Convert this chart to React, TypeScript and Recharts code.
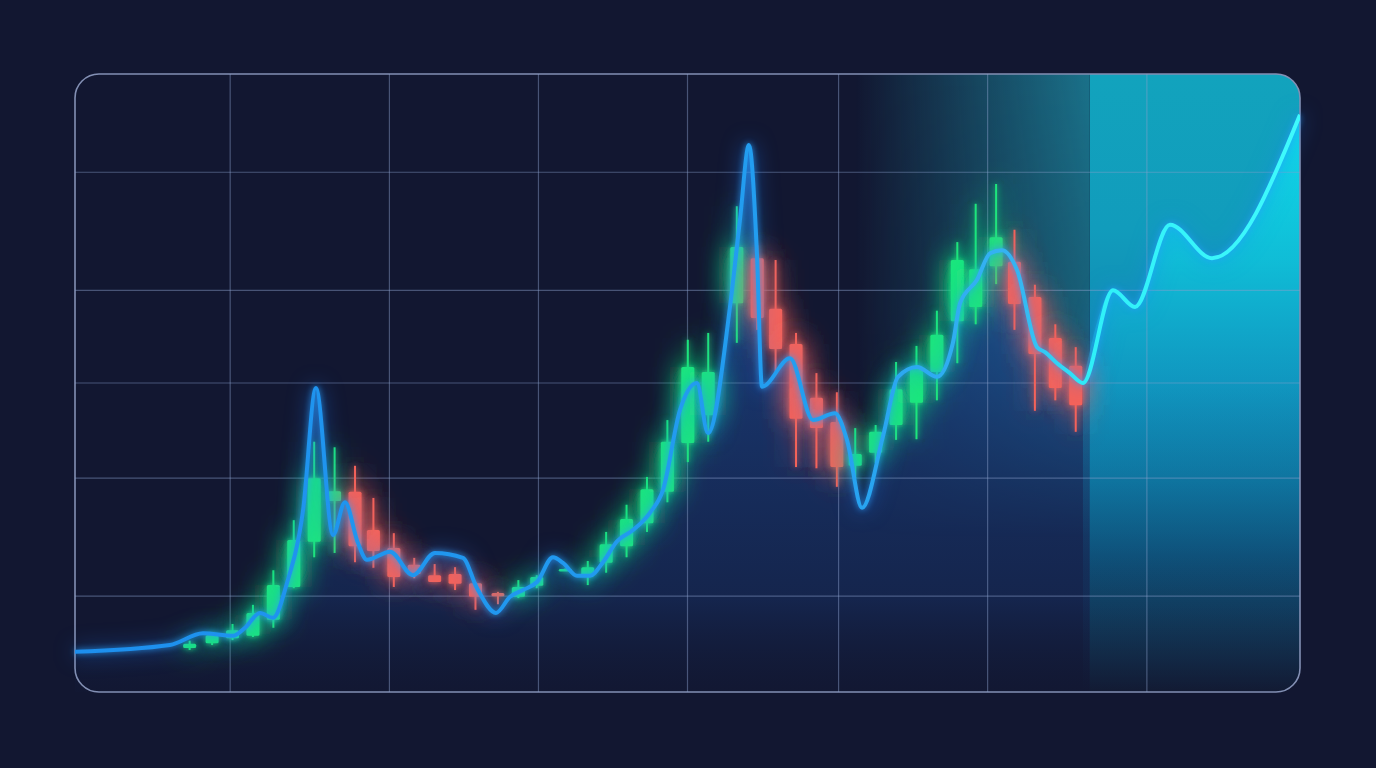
import React from 'react';
import { ComposedChart, XAxis, YAxis, Area, Line, Bar, ReferenceArea, ReferenceLine } from 'recharts';

const W = 1376;
const H = 768;
const MARGIN = { top: 74, right: 76, bottom: 76, left: 75 };
const RADIUS = 24;

const BG = '#121731';
const GREEN = '#1fe67d';
const RED = '#f4625a';

// candles (time index, price units)
const CANDLE_T = [5.6, 6.7, 7.7, 8.7, 9.7, 10.7, 11.7, 12.7, 13.7, 14.6, 15.6, 16.6, 17.6, 18.6, 19.6, 20.7, 21.7, 22.6, 24, 25.1, 26, 27, 28, 29, 30, 31, 32.4, 33.4, 34.3, 35.3, 36.3, 37.3, 38.2, 39.2, 40.2, 41.2, 42.2, 43.2, 44.1, 45.1, 46, 47, 48, 49];
const CANDLE_OPEN = [7.1, 7.9, 8.7, 9.1, 11.7, 17.0, 24.3, 30.9, 32.4, 26.2, 23.3, 20.6, 18.9, 19.1, 17.6, 16.0, 15.4, 17.2, 19.7, 18.8, 20.9, 23.6, 27.3, 32.4, 40.3, 44.8, 62.9, 70.2, 62.0, 56.3, 47.6, 43.7, 36.6, 38.7, 43.2, 46.8, 51.8, 60.0, 62.3, 68.9, 69.6, 63.9, 57.3, 52.8];
const CANDLE_CLOSE = [7.8, 9.2, 10.0, 12.8, 17.3, 24.6, 34.6, 32.5, 23.6, 22.8, 18.6, 19.1, 17.8, 17.5, 15.4, 15.5, 17.0, 18.6, 19.9, 20.2, 23.9, 28.0, 32.8, 40.5, 52.6, 51.8, 72.0, 60.5, 55.5, 44.2, 42.7, 36.4, 38.5, 42.1, 49.0, 52.6, 57.8, 69.9, 68.4, 73.6, 62.8, 54.7, 49.2, 46.4];
const CANDLE_HIGH = [8.3, 9.7, 11.0, 14.1, 19.7, 27.8, 40.5, 39.6, 36.6, 31.4, 25.7, 21.7, 20.7, 20.2, 17.8, 16.2, 18.1, 18.9, 20.0, 21.2, 25.9, 30.3, 34.8, 44.0, 57.0, 58.1, 78.6, 72.3, 69.9, 58.1, 51.6, 48.5, 42.7, 43.2, 53.4, 56.0, 61.7, 72.8, 79.0, 82.2, 74.8, 65.9, 59.5, 55.8];
const CANDLE_LOW = [6.8, 7.6, 8.4, 8.9, 10.4, 16.8, 21.8, 22.5, 21.0, 20.1, 17.0, 18.4, 17.8, 16.5, 13.3, 14.2, 15.2, 16.8, 19.6, 17.3, 19.3, 21.8, 25.9, 30.7, 37.2, 40.5, 56.5, 58.6, 51.6, 36.4, 36.2, 33.2, 34.6, 37.1, 40.8, 40.9, 47.2, 53.2, 59.5, 66.0, 58.6, 45.5, 47.2, 42.1];

// trend line
const LINE_T = [0, 4.65, 6.27, 7.74, 8.33, 9.06, 9.7, 10.38, 11.17, 11.8, 12.64, 13.22, 13.86, 14.3, 15.43, 16.55, 17.63, 19.0, 19.69, 20.62, 21.31, 21.94, 22.63, 23.41, 23.9, 24.59, 25.22, 25.86, 26.55, 27.33, 28.16, 28.8, 29.63, 30.46, 31.0, 32.08, 32.57, 33.01, 33.4, 33.65, 35.02, 36.15, 37.22, 37.81, 38.55, 39.57, 40.31, 41.24, 42.22, 43.0, 43.35, 44.18, 44.82, 45.4, 46.14, 47.12, 47.51, 48.1, 48.73, 49.37, 50.84, 51.92, 53.63, 55.69, 60];
const LINE_V = [6.5, 7.6, 9.5, 9.1, 10.4, 12.8, 12.0, 17.6, 29.4, 49.2, 25.4, 30.7, 24.1, 21.4, 22.7, 18.9, 22.5, 21.7, 16.8, 12.8, 15.4, 16.5, 17.8, 21.8, 20.9, 18.8, 18.8, 21.0, 24.4, 26.2, 29.0, 32.7, 45.6, 50.0, 41.9, 62.3, 76.4, 88.5, 71.0, 49.4, 54.0, 44.0, 45.1, 40.8, 29.8, 41.3, 51.0, 52.6, 51.0, 56.5, 62.9, 66.7, 71.0, 71.5, 68.3, 55.8, 55.0, 53.2, 51.6, 50.0, 65.0, 62.3, 75.6, 70.2, 93.4];

const GRID_X = [7.6, 15.4, 22.7, 30, 37.4, 44.7, 52.5];
const GRID_Y = [15.5, 34.6, 50, 65, 84.1];
const X_DOMAIN: [number, number] = [0, 60];
const Y_DOMAIN: [number, number] = [0, 100];
const GLOW_START = 37.6;
const FORECAST_START = 49.7;

const candles = CANDLE_T.map((t, i) => ({
  t,
  open: CANDLE_OPEN[i],
  close: CANDLE_CLOSE[i],
  high: CANDLE_HIGH[i],
  low: CANDLE_LOW[i],
  range: [CANDLE_LOW[i], CANDLE_HIGH[i]],
}));

const line = LINE_T.map((t, i) => ({ t, v: LINE_V[i] }));
const split = LINE_T.filter((t) => t < FORECAST_START).length - 1;
// history area runs one point into the forecast panel, which covers it
const histLine = line.slice(0, split + 2);
const forecastLine = line.slice(split);

const PLOT_TOP = MARGIN.top;
const PLOT_BOTTOM = H - MARGIN.bottom;

const Candle = (props: any) => {
  const { x, y, width, height, payload } = props;
  if (height == null || !payload) return null;
  const { open, close, high, low } = payload;
  const k = height / (high - low);
  const top = y + (high - Math.max(open, close)) * k;
  const bottom = y + (high - Math.min(open, close)) * k;
  const cx = x + width / 2;
  const color = close >= open ? GREEN : RED;
  return (
    <g filter="url(#candleGlow)">
      <rect x={cx - 1} y={y} width={2} height={height} fill={color} />
      <rect x={x} y={top} width={width} height={Math.max(bottom - top, 2.5)} fill={color} rx={1.5} />
    </g>
  );
};

const ForecastShape = (p: any) => {
  const { x, y, width: w, height: h } = p;
  const r = RADIUS;
  const d = `M${x},${y} H${x + w - r} A${r},${r} 0 0 1 ${x + w},${y + r} V${y + h - r} A${r},${r} 0 0 1 ${x + w - r},${y + h} H${x} Z`;
  return <path d={d} fill="url(#forecastFill)" />;
};

const GlowShape = (p: any) => (
  <rect x={p.x} y={p.y} width={p.width} height={p.height} fill="url(#tealBand)" mask="url(#fadeDown)" />
);

const BorderShape = (p: any) => (
  <rect x={p.x} y={p.y} width={p.width} height={p.height} rx={RADIUS} fill="none" stroke="#8390b4" strokeWidth={1.6} />
);

const Axes = () => (
  <>
    <XAxis dataKey="t" type="number" domain={X_DOMAIN} allowDataOverflow hide />
    <YAxis type="number" domain={Y_DOMAIN} allowDataOverflow hide />
  </>
);

const layer: React.CSSProperties = { position: 'absolute', left: 0, top: 0, width: W, height: H };

export default function App() {
  return (
    <div style={{ position: 'absolute', left: 0, top: 0, width: W, height: H, background: BG, overflow: 'hidden' }}>
      <svg width={0} height={0} style={{ position: 'absolute' }}>
        <defs>
          <linearGradient id="lineStroke" x1="0" y1="0" x2="1" y2="0">
            <stop offset="0" stopColor="#1d8fee" />
            <stop offset="0.6" stopColor="#239ef0" />
            <stop offset="0.77" stopColor="#36b4f2" />
            <stop offset="0.83" stopColor="#2ff0f8" />
            <stop offset="1" stopColor="#40fafc" />
          </linearGradient>
          <linearGradient id="mainFill" gradientUnits="userSpaceOnUse" x1="0" y1={PLOT_TOP} x2="0" y2={PLOT_BOTTOM}>
            <stop offset="0" stopColor="#2366c0" stopOpacity="0.6" />
            <stop offset="0.5" stopColor="#1d4c98" stopOpacity="0.55" />
            <stop offset="0.85" stopColor="#18366f" stopOpacity="0.45" />
            <stop offset="1" stopColor="#121a38" stopOpacity="0.2" />
          </linearGradient>
          <linearGradient id="forecastFill" x1="0" y1="0" x2="0" y2="1">
            <stop offset="0" stopColor="#12a3bd" />
            <stop offset="0.25" stopColor="#119cbc" />
            <stop offset="0.5" stopColor="#1184b0" />
            <stop offset="0.65" stopColor="#0f6a95" />
            <stop offset="0.78" stopColor="#0f4a72" />
            <stop offset="0.9" stopColor="#12304f" />
            <stop offset="1" stopColor="#121a33" />
          </linearGradient>
          <linearGradient id="regionFill" gradientUnits="userSpaceOnUse" x1="0" y1={PLOT_TOP} x2="0" y2={PLOT_BOTTOM}>
            <stop offset="0" stopColor="#10eef8" stopOpacity="0.85" />
            <stop offset="0.3" stopColor="#0fd6ea" stopOpacity="0.6" />
            <stop offset="0.55" stopColor="#0fb0d8" stopOpacity="0.3" />
            <stop offset="0.8" stopColor="#0b8fc0" stopOpacity="0.08" />
            <stop offset="1" stopColor="#0b8fc0" stopOpacity="0" />
          </linearGradient>
          <linearGradient id="tealBand" x1="0" y1="0" x2="1" y2="0">
            <stop offset="0.05" stopColor="#1b7c94" stopOpacity="0" />
            <stop offset="1" stopColor="#1b7c94" stopOpacity="0.9" />
          </linearGradient>
          <linearGradient id="fadeDownGrad" x1="0" y1="0" x2="0" y2="1">
            <stop offset="0" stopColor="#fff" stopOpacity="1" />
            <stop offset="0.4" stopColor="#fff" stopOpacity="0.8" />
            <stop offset="0.75" stopColor="#fff" stopOpacity="0" />
          </linearGradient>
          <mask id="fadeDown" maskContentUnits="objectBoundingBox">
            <rect x="0" y="0" width="1" height="1" fill="url(#fadeDownGrad)" />
          </mask>
          <filter id="candleGlow" filterUnits="userSpaceOnUse" x="0" y="0" width={W} height={H}>
            <feGaussianBlur in="SourceGraphic" stdDeviation="14" result="wide" />
            <feComponentTransfer in="wide" result="wideA">
              <feFuncA type="linear" slope="1.6" />
            </feComponentTransfer>
            <feGaussianBlur in="SourceGraphic" stdDeviation="3" result="near" />
            <feMerge>
              <feMergeNode in="wideA" />
              <feMergeNode in="near" />
              <feMergeNode in="SourceGraphic" />
            </feMerge>
          </filter>
        </defs>
      </svg>

      {/* history glow + area */}
      <div style={layer}>
        <ComposedChart width={W} height={H} data={histLine} margin={MARGIN}>
          <Axes />
          <ReferenceArea x1={GLOW_START} x2={FORECAST_START} y1={0} y2={100} shape={GlowShape} />
          <Area type="monotone" dataKey="v" stroke="none" fill="url(#mainFill)" fillOpacity={1} isAnimationActive={false} />
        </ComposedChart>
      </div>

      {/* forecast panel */}
      <div style={layer}>
        <ComposedChart width={W} height={H} data={forecastLine} margin={MARGIN}>
          <Axes />
          <ReferenceArea x1={FORECAST_START} x2={60} y1={0} y2={100} shape={ForecastShape} />
          <Area type="monotone" dataKey="v" stroke="none" fill="url(#regionFill)" fillOpacity={1} isAnimationActive={false} />
        </ComposedChart>
      </div>

      {/* grid + frame */}
      <div style={layer}>
        <ComposedChart width={W} height={H} data={line} margin={MARGIN}>
          <Axes />
          {GRID_X.map((g) => (
            <ReferenceLine key={'x' + g} x={g} stroke="rgba(140,160,205,0.45)" strokeWidth={1.2} />
          ))}
          {GRID_Y.map((g) => (
            <ReferenceLine key={'y' + g} y={g} stroke="rgba(140,160,205,0.45)" strokeWidth={1.2} />
          ))}
          <ReferenceArea x1={0} x2={60} y1={0} y2={100} shape={BorderShape} />
        </ComposedChart>
      </div>

      {/* candles */}
      <div style={layer}>
        <ComposedChart width={W} height={H} data={candles} margin={MARGIN}>
          <Axes />
          <Bar dataKey="range" barSize={13} shape={Candle} isAnimationActive={false} />
        </ComposedChart>
      </div>

      {/* trend line */}
      <div style={{ ...layer, filter: 'drop-shadow(0 0 3px rgba(40,160,255,0.85)) drop-shadow(0 0 10px rgba(30,130,255,0.5))' }}>
        <ComposedChart width={W} height={H} data={line} margin={MARGIN}>
          <Axes />
          <Line type="monotone" dataKey="v" stroke="url(#lineStroke)" strokeWidth={4} dot={false} activeDot={false} isAnimationActive={false} />
        </ComposedChart>
      </div>
    </div>
  );
}
